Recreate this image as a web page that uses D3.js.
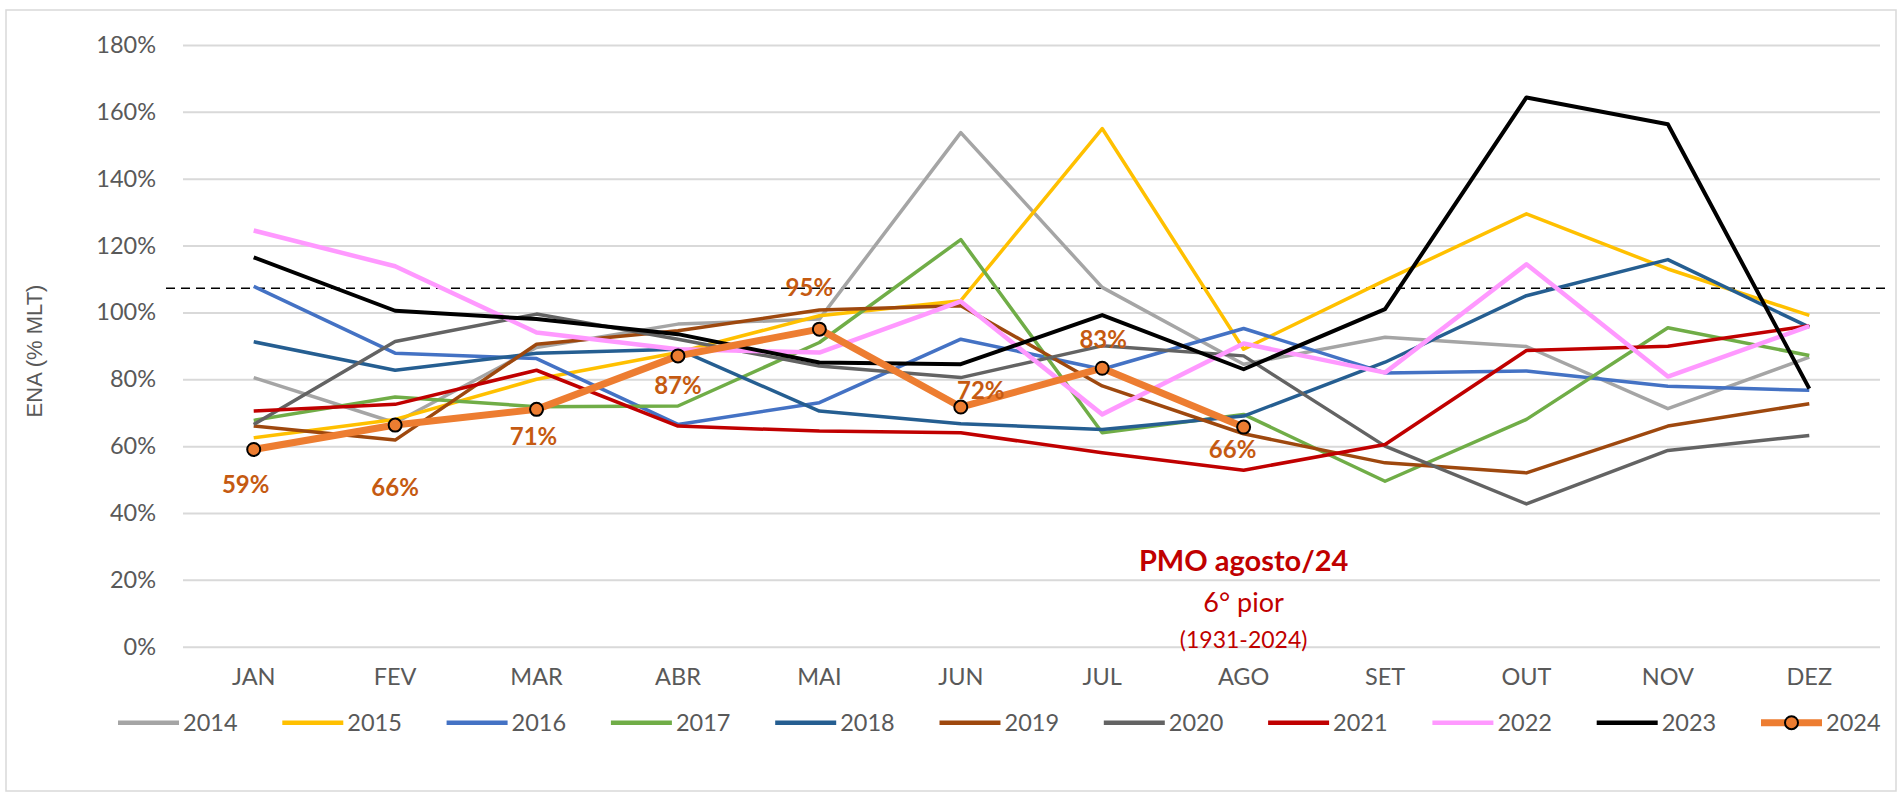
<!DOCTYPE html>
<html>
<head>
<meta charset="utf-8">
<script src="https://cdn.jsdelivr.net/npm/d3@7"></script>
<style>
  body { margin: 0; background: #fff; }
  svg text { font-family: Lato, "Open Sans", sans-serif; }
</style>
</head>
<body>
<svg id="chart" width="1903" height="796"></svg>
<script>
// categories and series values (ENA as % of MLT)
const months = ["JAN", "FEV", "MAR", "ABR", "MAI", "JUN", "JUL", "AGO", "SET", "OUT", "NOV", "DEZ"];
const years = ["2014", "2015", "2016", "2017", "2018", "2019", "2020", "2021", "2022", "2023", "2024"];

const v2014 = [80.5, 67, 89.5, 96.5, 98, 153.8, 107.5, 84.5, 92.6, 89.8, 71.2, 86.6];
const v2015 = [62.5, 68, 80, 88, 99, 103.5, 155, 89, 109.6, 129.5, 113, 99.1];
const v2016 = [107.8, 87.8, 86.2, 66.5, 73, 92, 83, 95.2, 81.9, 82.5, 77.9, 76.7];
const v2017 = [67.7, 74.7, 71.8, 72, 91, 121.8, 64, 69.5, 49.5, 68, 95.4, 87.1];
const v2018 = [91.2, 82.7, 87.8, 89, 70.5, 66.7, 65, 69, 85.1, 105, 115.8, 95.6];
const v2019 = [66, 61.8, 90.5, 94.5, 100.7, 102, 78, 63.7, 55, 52, 66, 72.7];
const v2020 = [66.5, 91.3, 99.5, 92, 84, 80.5, 90, 87, 60, 42.7, 58.7, 63.2];
const v2021 = [70.5, 72.5, 82.7, 66, 64.5, 64, 58, 52.8, 60.5, 88.6, 89.9, 96];
const v2022 = [124.5, 113.8, 94, 89, 88, 103.3, 69.5, 90.7, 82, 114.4, 80.8, 95.9];
const v2023 = [116.5, 100.5, 98, 93.5, 85, 84.5, 99.2, 83, 101, 164.3, 156.3, 77.2];
const v2024 = [59, 66.3, 71, 87, 95, 71.7, 83.3, 65.7];

const refLine = 107.2;           // dashed reference level
const yTicks = [0, 20, 40, 60, 80, 100, 120, 140, 160, 180];
const noteLines = ["PMO agosto/24", "6° pior", "(1931-2024)"];

const seriesValues = [v2014, v2015, v2016, v2017, v2018, v2019, v2020, v2021, v2022, v2023, v2024];
const colors = ["#A5A5A5", "#FFC000", "#4472C4", "#70AD47", "#255E91", "#9E480E", "#636363", "#C00000", "#FF99FF", "#000000", "#ED7D31"];
const widths = [3.5, 3.5, 3.5, 3.5, 3.5, 3.5, 3.5, 3.5, 4.5, 4, 7];

// label placement around the 2024 points (dx, dy)
const labelOffsets = [[-8, 35], [0, 63], [-3, 27], [0, 30], [-10, -42], [20, -16], [1, -29], [-11, 23]];

const svg = d3.select("#chart");

// outer frame
svg.append("rect")
    .attr("x", 6).attr("y", 10)
    .attr("width", 1890).attr("height", 781)
    .attr("fill", "#fff")
    .attr("stroke", "#D9D9D9")
    .attr("stroke-width", 1.5);

const x = d3.scaleBand().domain(months).range([183, 1880]).padding(0);
const y = d3.scaleLinear().domain([0, 180]).range([646.7, 45]);

// gridlines + y axis
const yAxis = svg.append("g")
    .attr("transform", "translate(183,0)")
    .call(d3.axisLeft(y).tickValues(yTicks).tickFormat(d => d + "%").tickSize(-1697).tickPadding(27));
yAxis.select(".domain").remove();
yAxis.selectAll(".tick line").attr("stroke", "#D9D9D9").attr("stroke-width", 2);
yAxis.selectAll(".tick text").attr("fill", "#595959").attr("font-size", 23.5);

// x axis labels
const xAxis = svg.append("g")
    .attr("transform", "translate(0,646.7)")
    .call(d3.axisBottom(x).tickSize(0).tickPadding(22));
xAxis.select(".domain").remove();
xAxis.selectAll(".tick text").attr("fill", "#595959").attr("font-size", 23.5);

// y axis title
svg.append("text")
    .attr("transform", "translate(42,351) rotate(-90)")
    .attr("text-anchor", "middle")
    .style("font-family", "'Liberation Sans', Arial, sans-serif")
    .attr("font-size", 22)
    .attr("fill", "#595959")
    .text("ENA (% MLT)");

// dashed reference line
svg.append("line")
    .attr("x1", 166).attr("x2", 1890)
    .attr("y1", y(refLine)).attr("y2", y(refLine))
    .attr("stroke", "#000")
    .attr("stroke-width", 1.5)
    .attr("stroke-dasharray", "9,6");

const line = d3.line()
    .x((d, i) => x(months[i]) + x.bandwidth() / 2)
    .y(d => y(d));

seriesValues.forEach((vals, k) => {
    svg.append("path")
        .datum(vals)
        .attr("fill", "none")
        .attr("stroke", colors[k])
        .attr("stroke-width", widths[k])
        .attr("stroke-linejoin", "round")
        .attr("d", line);
});

// 2024 markers and labels
svg.append("g").selectAll("circle")
    .data(v2024)
    .enter().append("circle")
    .attr("cx", (d, i) => x(months[i]) + x.bandwidth() / 2)
    .attr("cy", d => y(d))
    .attr("r", 6.5)
    .attr("fill", "#ED7D31")
    .attr("stroke", "#000")
    .attr("stroke-width", 2);

svg.append("g").selectAll("text")
    .data(v2024)
    .enter().append("text")
    .attr("x", (d, i) => x(months[i]) + x.bandwidth() / 2 + labelOffsets[i][0])
    .attr("y", (d, i) => y(d) + labelOffsets[i][1])
    .attr("dy", "0.35em")
    .attr("text-anchor", "middle")
    .attr("font-size", 24)
    .attr("font-weight", "bold")
    .attr("fill", "#C55A11")
    .text(d => Math.round(d) + "%");

// annotation
const noteX = x("AGO") + x.bandwidth() / 2;
const note = svg.append("g").attr("fill", "#C00000").attr("text-anchor", "middle");
note.append("text").attr("x", noteX).attr("y", 571).attr("font-size", 29).attr("font-weight", "bold").text(noteLines[0]);
note.append("text").attr("x", noteX).attr("y", 612).attr("font-size", 27).text(noteLines[1]);
note.append("text").attr("x", noteX).attr("y", 648).attr("font-size", 23).text(noteLines[2]);

// legend
const legend = svg.append("g").attr("transform", "translate(118,722.7)");
const item = legend.selectAll("g")
    .data(years)
    .enter().append("g")
    .attr("transform", (d, i) => `translate(${i * 164.3},0)`);
item.append("line")
    .attr("x1", 0).attr("x2", 61)
    .attr("stroke", (d, i) => colors[i])
    .attr("stroke-width", (d, i) => i === 10 ? 7 : 4.5);
item.filter((d, i) => i === 10).append("circle")
    .attr("cx", 30.5).attr("r", 6.5)
    .attr("fill", "#ED7D31").attr("stroke", "#000").attr("stroke-width", 2);
item.append("text")
    .attr("x", 65)
    .attr("dy", "0.35em")
    .attr("font-size", 23.5)
    .attr("fill", "#595959")
    .text(d => d);
</script>
</body>
</html>
